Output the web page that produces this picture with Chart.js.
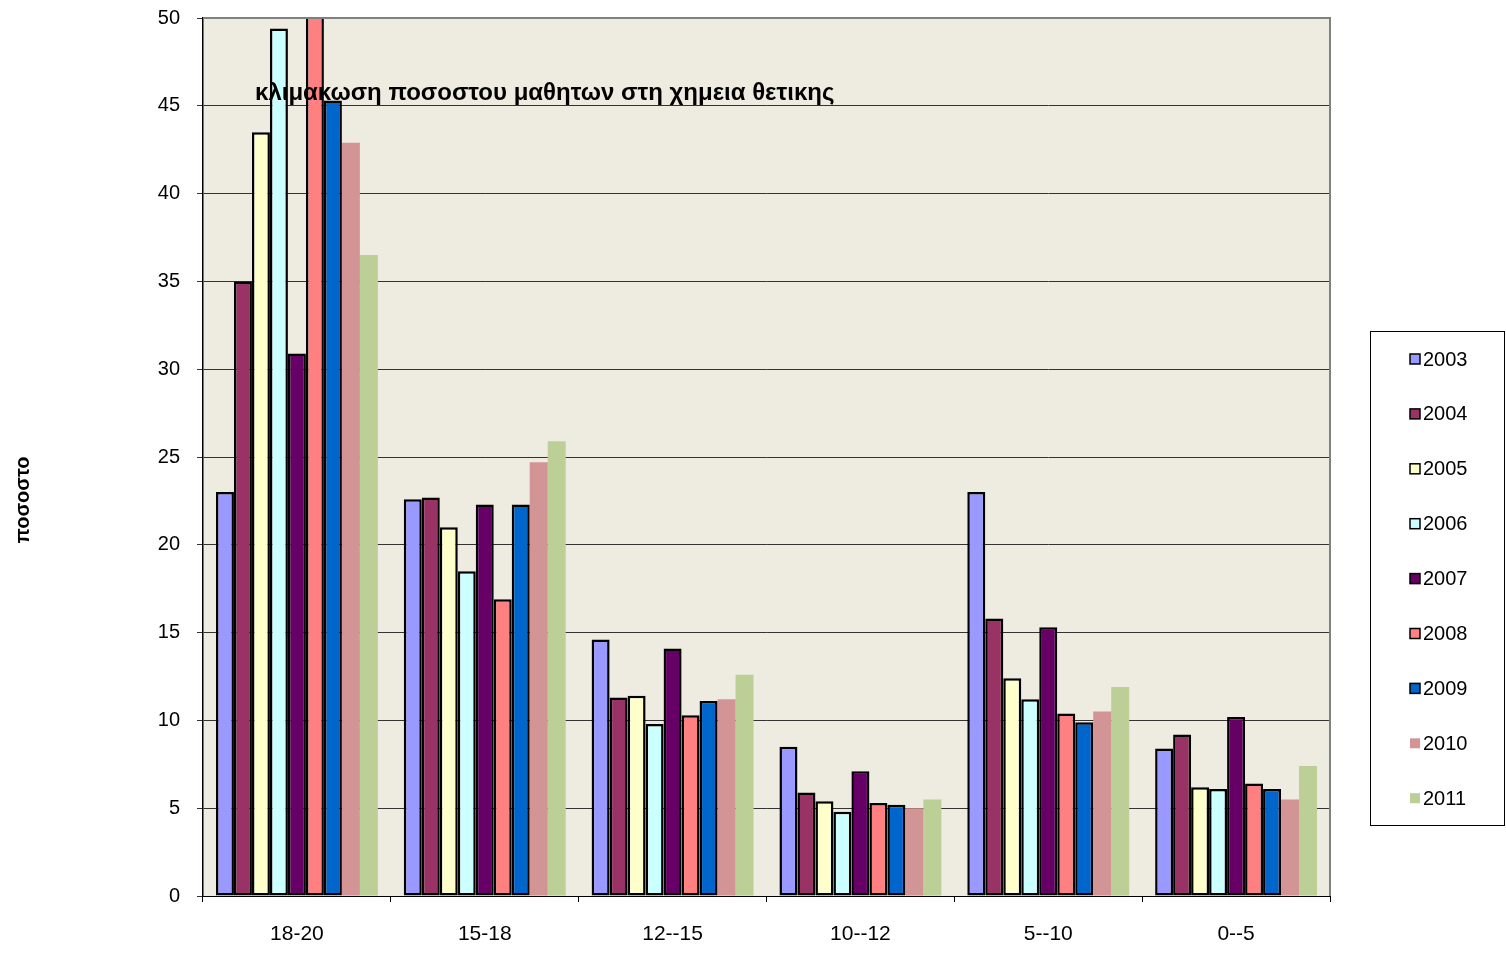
<!DOCTYPE html>
<html>
<head>
<meta charset="utf-8">
<script src="https://cdn.jsdelivr.net/npm/chart.js@4/dist/chart.umd.min.js"></script>
<style>
  html, body { margin: 0; padding: 0; background: #fff; }
  #wrap { width: 1506px; height: 953px; }
</style>
</head>
<body>
<div id="wrap"><canvas id="chart" width="1506" height="953"></canvas></div>
<script>
// κατηγορίες βαθμών
const categories = ['18-20', '15-18', '12--15', '10--12', '5--10', '0--5'];
const years = ['2003', '2004', '2005', '2006', '2007', '2008', '2009', '2010', '2011'];

// ποσοστά ανά έτος (μία τιμή για κάθε κατηγορία)
const v2003 = [23.0, 22.6, 14.6, 8.5, 23.0, 8.4];
const v2004 = [35.0, 22.7, 11.3, 5.9, 15.8, 9.2];
const v2005 = [43.5, 21.0, 11.4, 5.4, 12.4, 6.2];
const v2006 = [49.4, 18.5, 9.8, 4.8, 11.2, 6.1];
const v2007 = [30.9, 22.3, 14.1, 7.1, 15.3, 10.2];
const v2008 = [53.0, 16.9, 10.3, 5.3, 10.4, 6.4];
const v2009 = [45.3, 22.3, 11.1, 5.2, 9.9, 6.1];
const v2010 = [42.9, 24.7, 11.2, 5.0, 10.5, 5.5];
const v2011 = [36.5, 25.9, 12.6, 5.5, 11.9, 7.4];
const values = [v2003, v2004, v2005, v2006, v2007, v2008, v2009, v2010, v2011];

const colors = ['#9999FF', '#993366', '#FFFFCC', '#CCFFFF', '#660066', '#FF8080', '#0066CC', '#D29494', '#BBCF97'];
const outlined = [true, true, true, true, true, true, true, false, false];

const yTicks = [0, 5, 10, 15, 20, 25, 30, 35, 40, 45, 50];

const titleText = 'κλιμακωση ποσοστου μαθητων στη χημεια θετικης';
const yTitle = 'ποσοστο';
const font = '"Liberation Sans", Arial, sans-serif';

// Φόντο και πλαίσιο της περιοχής σχεδίασης
const plotBackground = {
    id: 'plotBackground',
    beforeDraw(chart) {
        const { ctx, chartArea: a } = chart;
        ctx.save();
        ctx.fillStyle = '#EEEBE1';
        ctx.fillRect(a.left, a.top, a.right - a.left, a.bottom - a.top);
        ctx.restore();
    },
    afterDraw(chart) {
        const { ctx, chartArea: a } = chart;
        ctx.save();
        ctx.strokeStyle = '#808080';
        ctx.lineWidth = 2;
        ctx.beginPath();
        ctx.moveTo(a.left, a.top);
        ctx.lineTo(a.right, a.top);
        ctx.lineTo(a.right, a.bottom);
        ctx.stroke();
        ctx.restore();
    }
};

// Τίτλος μέσα στο διάγραμμα και τίτλος άξονα y
const texts = {
    id: 'texts',
    afterDatasetsDraw(chart) {
        const { ctx, chartArea: a } = chart;
        ctx.save();
        ctx.fillStyle = '#000';
        ctx.font = 'bold 24px ' + font;
        ctx.textAlign = 'left';
        ctx.textBaseline = 'middle';
        ctx.fillText(titleText, a.left + 52, 93);

        ctx.translate(23, 500);
        ctx.rotate(-Math.PI / 2);
        ctx.font = 'bold 20px ' + font;
        ctx.textAlign = 'center';
        ctx.fillText(yTitle, 0, 0);
        ctx.restore();
    }
};

// Υπόμνημα σε πλαίσιο δεξιά
const sideLegend = {
    id: 'sideLegend',
    afterDraw(chart) {
        const ctx = chart.ctx;
        const box = { x: 1370.5, y: 331.5, w: 134, h: 494 };
        ctx.save();
        ctx.fillStyle = '#fff';
        ctx.fillRect(box.x, box.y, box.w, box.h);
        ctx.strokeStyle = '#000';
        ctx.lineWidth = 1;
        ctx.strokeRect(box.x, box.y, box.w, box.h);

        ctx.font = '20px ' + font;
        ctx.textBaseline = 'middle';
        ctx.textAlign = 'left';
        chart.data.datasets.forEach((ds, i) => {
            const cy = 359 + i * 54.9;
            ctx.fillStyle = ds.backgroundColor;
            ctx.fillRect(1410, cy - 5, 10, 10);
            if (ds.borderWidth > 0) {
                ctx.strokeStyle = '#000';
                ctx.lineWidth = 1.5;
                ctx.strokeRect(1410, cy - 5, 10, 10);
            }
            ctx.fillStyle = '#000';
            ctx.fillText(ds.label, 1423, cy + 1);
        });
        ctx.restore();
    }
};

const datasets = years.map((y, i) => ({
    label: y,
    data: values[i],
    backgroundColor: colors[i],
    borderColor: '#000',
    borderWidth: outlined[i] ? 2.5 : 0,
    borderSkipped: false,
    categoryPercentage: 0.862,
    barPercentage: 1.0
}));

new Chart(document.getElementById('chart'), {
    type: 'bar',
    data: { labels: categories, datasets: datasets },
    plugins: [plotBackground, texts, sideLegend],
    options: {
        responsive: false,
        animation: false,
        layout: { padding: { top: 18, right: 176, left: 0, bottom: 0 } },
        plugins: {
            legend: { display: false },
            title: { display: false },
            tooltip: { enabled: false }
        },
        scales: {
            x: {
                afterFit(scale) { scale.height = 57; },
                grid: {
                    offset: true,
                    drawOnChartArea: false,
                    drawTicks: true,
                    tickLength: 6,
                    color: '#000'
                },
                border: { color: '#000', width: 1 },
                ticks: {
                    color: '#000',
                    font: { family: font, size: 21 },
                    padding: 20
                }
            },
            y: {
                min: 0,
                max: 50,
                afterFit(scale) {
                    scale.width = 203;
                    scale.paddingTop = 0;
                    scale.paddingBottom = 0;
                },
                afterBuildTicks(scale) {
                    scale.ticks = yTicks.map(v => ({ value: v }));
                },
                grid: {
                    color: '#333',
                    lineWidth: 1,
                    tickLength: 6
                },
                border: { color: '#000', width: 1.5 },
                ticks: {
                    color: '#000',
                    font: { family: font, size: 20 },
                    padding: 17
                }
            }
        }
    }
});
</script>
</body>
</html>
